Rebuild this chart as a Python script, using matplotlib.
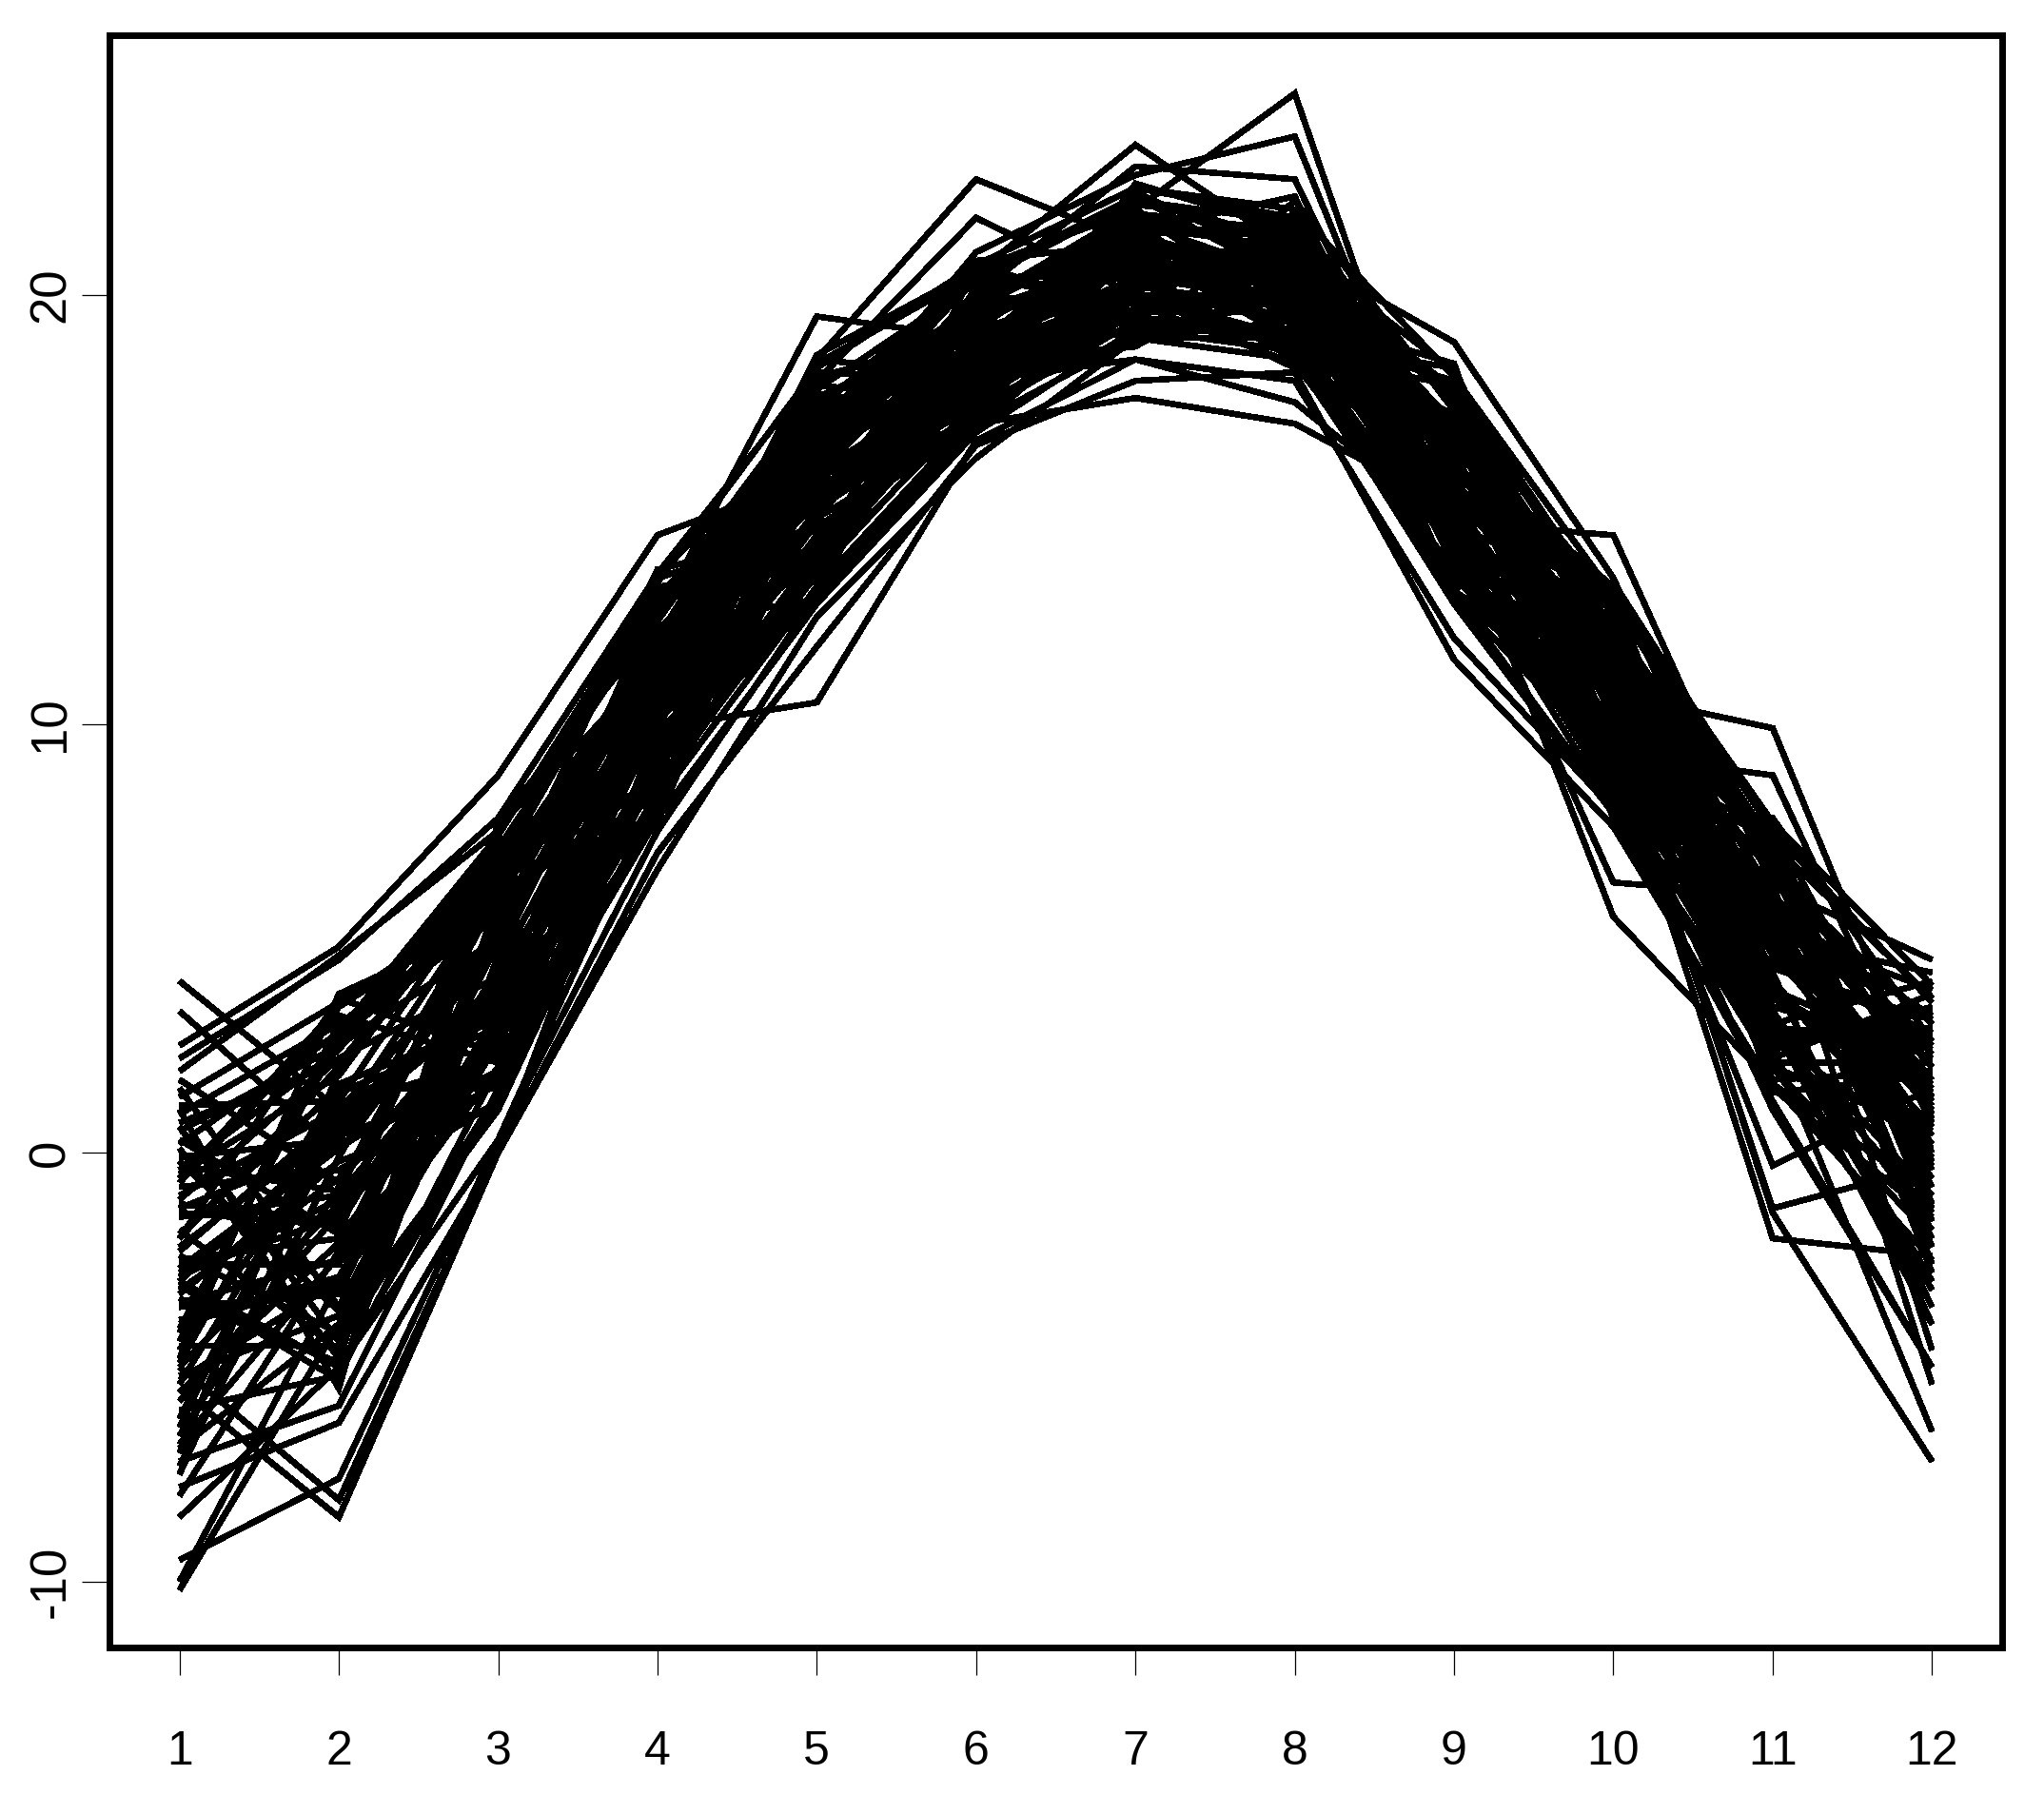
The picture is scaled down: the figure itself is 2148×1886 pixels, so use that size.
import matplotlib
matplotlib.use("Agg")
import matplotlib.pyplot as plt

plt.rcParams['font.family'] = ['Liberation Sans', 'DejaVu Sans']

months = [1, 2, 3, 4, 5, 6, 7, 8, 9, 10, 11, 12]
x_labels = ['1', '2', '3', '4', '5', '6', '7', '8', '9', '10', '11', '12']
y_ticks = [-10, 0, 10, 20]

# one list per month, position i in each list belongs to the same curve
jan = [4.0, 3.3, 2.5, 2.2, 1.9, -9.5, -10.2, -10.0, -8.5, -5.5,
       -5.0, -7.8, -7.2, -6.0, 1.3, 0.9, -1.0, -2.0, -3.0, 0.5,
       -1.5, -2.5, -4.0, -3.5, -2.8, -4.5, -0.5, -5.2, 0.2, -3.2,
       -1.2, -6.4, 1.0, -2.2, -4.8, -0.8, -6.9, 0.7, -5.8, -1.8,
       -2.6, -7.0, -0.2, -4.2, 1.7, -3.0, -5.4, -1.4, -2.0, -6.8,
       0.3, -3.9, -0.6, -4.6, -2.4, 1.1, -5.0, -1.1, -3.4, -7.5,
       -0.1, -2.9, -4.4, 0.6, -7.3, -6.2, -3.6, -0.4, -5.6, -2.3,
       1.5, -4.1, -1.3, -3.1, -6.6, -0.7, -8.0, -4.9, 0.1, -3.3,
       -1.9, -5.3, -2.7, -0.3]
feb = [1.0, 0.0, 4.8, 4.5, 4.6, -7.6, -4.0, -3.0, -5.0, -8.5,
       -8.1, -6.3, -5.9, -5.2, 3.5, 3.0, 1.0, 2.0, 0.5, 2.5,
       -1.0, -2.0, -3.0, -2.5, -1.5, -4.5, 1.8, -3.8, 2.8, -0.6,
       -1.6, 1.4, -5.5, 0.6, 3.7, -0.4, -4.0, 2.1, -1.4, -4.6,
       -2.6, 1.9, -3.7, 2.7, -0.7, -5.0, 0.7, -1.7, 3.6, -2.4,
       -1.9, -2.9, 3.4, 0.4, -4.2, 1.2, -1.2, 2.2, -4.9, 0.8,
       0.3, -1.1, 3.0, -4.4, -0.1, 1.1, -3.3, 2.4, -2.1, 0.9,
       -3.6, 2.6, 0.2, -5.3, -0.8, 3.2, -2.3, 1.6, -4.8, -0.2,
       1.5, -3.0, 0.1, -0.9]
mar = [3.5, 5.0, 8.8, 7.8, 7.5, 0.3, 1.0, 2.0, 0.3, 0.0,
       0.0, 0.0, 1.5, 2.0, 6.0, 5.5, 5.0, 6.5, 4.0, 5.0,
       3.5, 3.0, 3.0, 2.5, 4.0, 1.4, 6.8, 2.6, 7.4, 3.8,
       6.6, 2.9, 7.6, 3.6, 5.4, 1.6, 4.2, 6.4, 2.4, 5.9,
       4.9, 7.0, 2.7, 5.6, 3.9, 1.3, 6.3, 4.3, 2.3, 5.3,
       7.3, 3.3, 5.8, 1.7, 4.5, 6.7, 2.8, 4.1, 7.7, 3.7,
       4.8, 1.2, 5.7, 3.2, 6.2, 2.2, 4.4, 7.1, 1.8, 5.2,
       3.4, 7.2, 1.9, 4.6, 6.1, 2.1, 5.1, 3.1, 6.9, 1.1,
       1.5, 5.5, 2.5, 6.0]
apr = [10.0, 11.5, 14.4, 13.5, 12.5, 7.5, 9.0, 8.0, 8.5, 6.6,
       7.0, 9.9, 9.0, 9.0, 11.0, 12.0, 11.0, 12.0, 10.5, 11.0,
       10.0, 9.0, 9.0, 10.0, 10.0, 8.2, 12.8, 9.4, 13.3, 10.8,
       13.1, 8.7, 11.4, 9.9, 10.5, 12.5, 8.0, 11.0, 13.5, 9.5,
       11.7, 8.6, 13.0, 10.2, 8.9, 12.4, 9.8, 11.3, 7.9, 10.6,
       7.7, 13.2, 8.8, 11.1, 12.9, 9.3, 11.6, 10.3, 12.3, 8.1,
       12.2, 9.2, 13.6, 10.4, 11.9, 8.4, 10.9, 12.6, 9.6, 11.5,
       12.7, 9.7, 11.2, 12.1, 8.3, 10.1, 11.8, 9.1, 13.4, 10.7,
       7.8, 12.0, 10.0, 11.7]
may = [15.0, 16.0, 15.8, 17.0, 19.5, 13.0, 14.0, 15.0, 13.5, 12.5,
       11.8, 10.5, 13.0, 14.0, 18.5, 18.0, 17.0, 16.5, 16.0, 16.0,
       16.0, 15.0, 14.0, 15.0, 15.0, 13.2, 17.8, 14.4, 18.3, 15.6,
       13.3, 17.3, 15.3, 16.6, 14.3, 17.9, 16.1, 13.8, 18.2, 13.1,
       18.0, 13.9, 16.4, 14.9, 15.8, 17.5, 13.5, 16.0, 18.5, 14.0,
       16.7, 13.6, 18.1, 15.2, 14.1, 17.4, 14.8, 16.3, 12.9, 15.9,
       15.5, 18.4, 14.5, 16.8, 15.1, 13.7, 17.1, 16.2, 14.7, 17.7,
       17.2, 14.2, 18.6, 15.4, 16.9, 13.4, 15.7, 17.6, 14.6, 16.5,
       12.8, 17.0, 15.0, 16.7]
jun = [18.0, 19.0, 19.5, 18.0, 19.0, 17.0, 18.0, 19.0, 17.5, 16.2,
       16.5, 16.6, 17.0, 18.0, 22.7, 21.8, 20.5, 21.0, 19.8, 20.0,
       20.0, 19.0, 18.0, 18.0, 17.5, 17.2, 20.3, 18.2, 20.7, 18.9,
       18.9, 20.6, 17.8, 19.6, 18.2, 17.5, 20.1, 19.2, 18.0, 19.8,
       19.3, 18.3, 20.4, 18.8, 17.3, 19.7, 18.7, 20.8, 18.1, 20.2,
       20.4, 17.4, 19.0, 18.4, 18.8, 20.3, 17.0, 19.4, 20.7, 18.1,
       17.1, 20.5, 17.7, 19.1, 20.0, 17.9, 19.5, 18.5, 19.9, 17.2,
       19.6, 17.4, 20.6, 18.6, 17.6, 20.1, 18.4, 19.4, 16.9, 19.2,
       16.8, 19.7, 18.6, 19.3]
jul = [20.0, 21.0, 21.0, 20.5, 21.0, 19.0, 20.0, 19.5, 20.5, 19.0,
       18.0, 18.5, 17.6, 18.5, 21.2, 20.0, 23.5, 22.8, 22.0, 23.0,
       21.5, 21.0, 20.0, 19.5, 19.0, 19.4, 22.2, 20.2, 22.5, 20.8,
       19.1, 22.0, 19.7, 20.9, 21.8, 19.9, 21.3, 20.3, 21.6, 19.5,
       21.4, 19.2, 22.3, 20.4, 19.6, 21.9, 20.1, 21.2, 18.9, 20.9,
       19.8, 22.5, 21.1, 18.8, 22.0, 20.6, 20.4, 20.8, 19.6, 22.3,
       21.7, 19.8, 22.4, 20.6, 21.5, 19.3, 20.7, 22.1, 20.0, 21.1,
       20.5, 22.6, 19.4, 21.4, 20.2, 19.0, 21.9, 21.0, 20.1, 21.7,
       19.2, 21.6, 20.0, 21.2]
aug = [20.0, 20.5, 21.0, 20.0, 19.0, 20.0, 19.5, 19.0, 20.0, 19.0,
       18.2, 18.0, 17.0, 17.5, 20.0, 19.0, 21.0, 23.7, 24.7, 22.7,
       22.3, 21.0, 20.0, 19.0, 18.5, 18.9, 21.7, 19.7, 22.0, 20.3,
       21.2, 19.3, 21.9, 20.1, 21.0, 18.8, 20.2, 21.6, 19.5, 20.6,
       21.7, 19.1, 20.3, 19.9, 20.1, 21.5, 18.3, 20.6, 22.2, 19.3,
       20.0, 21.8, 18.9, 20.9, 19.7, 18.5, 21.4, 20.5, 19.6, 21.2,
       20.4, 18.4, 20.7, 19.6, 21.4, 19.1, 19.9, 21.8, 18.7, 20.9,
       18.6, 21.5, 19.2, 20.4, 21.3, 19.4, 20.8, 19.8, 21.1, 19.0,
       18.7, 21.1, 19.5, 20.7]
sep = [16.0, 15.0, 17.0, 16.0, 14.0, 15.0, 14.0, 13.0, 15.0, 13.0,
       11.5, 12.0, 15.0, 14.5, 17.0, 15.5, 17.5, 14.5, 14.0, 15.0,
       14.7, 18.9, 14.0, 13.0, 13.0, 13.4, 17.4, 14.4, 18.1, 15.6,
       17.5, 14.7, 16.0, 17.1, 13.7, 15.1, 16.7, 14.5, 18.4, 15.5,
       13.1, 18.0, 13.8, 16.1, 17.7, 14.3, 16.5, 15.3, 17.3, 13.3,
       16.9, 14.2, 18.3, 15.4, 16.8, 13.5, 15.7, 17.6, 14.6, 16.4,
       16.6, 13.6, 17.8, 15.2, 14.1, 17.2, 14.8, 16.2, 13.2, 15.8,
       17.9, 13.9, 16.3, 14.9, 15.9, 17.0, 13.0, 16.6, 18.2, 14.0,
       12.8, 16.9, 15.0, 16.2]
oct_ = [11.0, 10.0, 12.0, 11.0, 9.0, 9.0, 8.0, 9.0, 10.0, 8.0,
        7.6, 8.0, 5.5, 6.3, 9.3, 10.7, 12.0, 12.0, 13.0, 13.0,
        14.4, 13.4, 9.5, 10.0, 9.0, 9.8, 12.8, 9.4, 13.0, 10.8,
        11.7, 8.6, 12.6, 10.2, 8.9, 12.4, 9.8, 11.3, 8.0, 10.6,
        10.7, 12.5, 9.1, 11.8, 10.1, 8.3, 12.1, 11.2, 9.7, 12.0,
        8.1, 12.3, 10.3, 11.6, 9.3, 12.9, 11.1, 8.8, 13.1, 7.8,
        13.0, 8.7, 11.4, 9.9, 10.5, 11.0, 8.5, 10.9, 13.3, 9.5,
        12.2, 9.2, 13.2, 10.4, 11.9, 8.4, 10.9, 12.7, 9.6, 11.5,
        7.9, 12.2, 10.0, 11.3]
nov = [5.0, 4.0, 6.0, 6.5, 5.0, 3.0, 2.0, 1.0, 3.0, 2.0,
       1.5, 2.5, 1.6, 6.0, 8.8, 9.9, 6.0, 5.0, 7.0, 7.5,
       6.2, 5.0, -2.0, -1.4, -0.3, -1.3, 7.2, 2.8, 7.7, 4.6,
       7.1, 2.5, 5.4, 3.7, 4.3, 6.7, 1.7, 4.9, 7.8, 3.1,
       6.6, 3.0, 7.6, 4.2, 5.9, 2.0, 4.8, 7.0, 3.2, 5.5,
       5.7, 2.2, 7.4, 3.8, 2.6, 6.8, 3.4, 5.3, 1.6, 4.4,
       6.5, 3.3, 5.2, 6.1, 2.1, 4.1, 5.8, 2.7, 7.5, 4.7,
       1.4, 7.3, 2.4, 5.1, 6.9, 2.9, 5.6, 3.6, 6.3, 1.9,
       1.2, 6.0, 3.9, 5.0]
dec = [1.0, 0.0, 2.0, 3.0, 1.5, -1.0, -3.0, -5.0, -4.0, -2.0,
       -1.5, -6.5, -2.5, 0.0, 0.8, 0.9, 2.5, 1.0, 2.0, 3.5,
       4.5, 4.2, -2.4, -7.2, 1.5, -0.3, 3.6, -1.4, 3.9, 0.6,
       -4.6, 3.4, -2.0, 1.6, 3.1, -0.8, 1.9, -0.6, 2.6, -3.2,
       -1.3, 4.0, 0.7, -4.0, 2.0, 0.5, -0.3, 1.3, -3.0, 3.2,
       0.9, 3.7, -1.6, 2.2, 0.1, -2.8, 2.4, 1.1, -1.0, 2.8,
       2.3, -1.8, 3.8, -0.2, 2.1, -3.6, 0.4, 2.9, -1.2, 1.2,
       1.8, -2.6, 3.3, 0.2, -2.2, 2.7, -0.4, 1.4, -5.4, 0.8,
       -5.0, 1.7, -0.1, 1.5]

all_months = [jan, feb, mar, apr, may, jun, jul, aug, sep, oct_, nov, dec]

fig = plt.figure(figsize=(21.48, 18.86), dpi=100)
ax = fig.add_axes([115 / 2148, 1 - 1731 / 1886, (2104 - 115) / 2148, (1731 - 37) / 1886])

for curve in zip(*all_months):
    ax.plot(months, curve, color='black', linewidth=4.0,
            solid_joinstyle='miter', solid_capstyle='butt', antialiased=False)

ax.set_xlim(0.56, 12.44)
ax.set_ylim(-11.54, 26.06)

ax.set_xticks(months)
ax.set_xticklabels(x_labels, fontsize=36)
ax.set_yticks(y_ticks)
ax.set_yticklabels([str(v) for v in y_ticks], fontsize=38, rotation=90, va='center')
ax.tick_params(axis='x', length=21, width=0.9, pad=42)
ax.tick_params(axis='y', length=21, width=0.9, pad=5)

for spine in ax.spines.values():
    spine.set_linewidth(5)

fig.savefig('out.png', dpi=100)
